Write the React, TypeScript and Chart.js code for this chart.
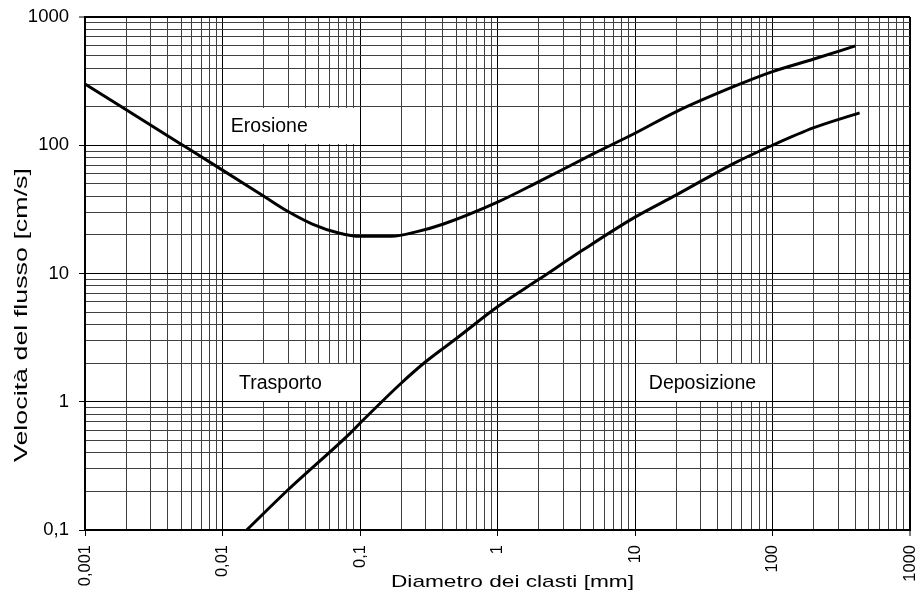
import React, { useEffect, useRef } from 'react';
import { Chart, registerables } from 'chart.js';

Chart.register(...registerables);

// ---- data ----
const erosionDiameter = [0.001, 0.005, 0.01, 0.02, 0.03, 0.045, 0.07, 0.1, 0.17, 0.26, 0.4, 1, 2, 5, 10, 20, 52, 100, 200, 400];
const erosionVelocity = [300, 102, 64, 40, 30.4, 24.3, 20.7, 19.5, 19.5, 21.2, 24.2, 36, 52, 86, 124, 183, 286, 375, 470, 595];

const depositionDiameter = [0.015, 0.03, 0.085, 0.1, 0.2, 0.3, 0.5, 1, 2, 4.2, 10, 20, 52, 100, 200, 430];
const depositionVelocity = [0.1, 0.206, 0.57, 0.68, 1.4, 2.05, 3.1, 5.5, 9.0, 15.3, 27.5, 41, 72, 100, 137, 179];

const xMajorTicks = [0.001, 0.01, 0.1, 1, 10, 100, 1000];
const xTickLabels = ['0,001', '0,01', '0,1', '1', '10', '100', '1000'];
const yMajorTicks = [0.1, 1, 10, 100, 1000];
const yTickLabels = ['0,1', '1', '10', '100', '1000'];

const regionLabels = ['Erosione', 'Trasporto', 'Deposizione'];
const regionXMin = [0.01, 0.01, 10];
const regionXMax = [0.1, 0.1, 100];
const regionYMin = [100, 1, 1];
const regionYMax = [200, 2, 2];
const regionTextX = [0.0115, 0.0132, 12.6];

const xTitle = 'Diametro dei clasti [mm]';
const yTitle = 'Velocità del flusso [cm/s]';

const FONT = '"Liberation Sans", Arial, Helvetica, sans-serif';

function decadeTicks(majors: number[]) {
  const out: { value: number; major: boolean }[] = [];
  for (let i = 0; i < majors.length; i++) {
    out.push({ value: majors[i], major: true });
    if (i < majors.length - 1) {
      for (let m = 2; m <= 9; m++) out.push({ value: +(majors[i] * m).toPrecision(6), major: false });
    }
  }
  return out;
}

function labelFor(value: number, majors: number[], labels: string[]) {
  const i = majors.findIndex((m) => Math.abs(m - value) / m < 1e-6);
  return i >= 0 ? labels[i] : '';
}

const regionPlugin = {
  id: 'regionBoxes',
  beforeDatasetsDraw(chart: any) {
    const { ctx } = chart;
    const xs = chart.scales.x;
    const ys = chart.scales.y;
    ctx.save();
    for (let i = 0; i < regionLabels.length; i++) {
      const l = xs.getPixelForValue(regionXMin[i]);
      const r = xs.getPixelForValue(regionXMax[i]);
      const t = ys.getPixelForValue(regionYMax[i]);
      const b = ys.getPixelForValue(regionYMin[i]);
      ctx.fillStyle = '#ffffff';
      ctx.fillRect(Math.round(l) + 1, Math.round(t) + 1, Math.round(r) - Math.round(l) - 2, Math.round(b) - Math.round(t) - 2);
      ctx.fillStyle = '#000000';
      ctx.font = `19.5px ${FONT}`;
      ctx.textAlign = 'left';
      ctx.textBaseline = 'middle';
      ctx.fillText(regionLabels[i], xs.getPixelForValue(regionTextX[i]), (t + b) / 2 + 1);
    }
    ctx.restore();
  },
};

const titlePlugin = {
  id: 'stretchedTitles',
  afterDraw(chart: any) {
    const { ctx } = chart;
    ctx.save();
    ctx.fillStyle = '#000000';
    ctx.font = `17px ${FONT}`;
    ctx.textAlign = 'center';
    ctx.textBaseline = 'alphabetic';
    // x title
    let w = ctx.measureText(xTitle).width;
    ctx.save();
    ctx.translate(512.5, 587);
    ctx.scale(243 / w, 1);
    ctx.fillText(xTitle, 0, 0);
    ctx.restore();
    // y title
    ctx.font = `17.5px ${FONT}`;
    w = ctx.measureText(yTitle).width;
    ctx.save();
    ctx.translate(27, 315);
    ctx.rotate(-Math.PI / 2);
    ctx.scale(294 / w, 1);
    ctx.fillText(yTitle, 0, 0);
    ctx.restore();
    ctx.restore();
  },
};

export default function App() {
  const ref = useRef<HTMLCanvasElement>(null);

  useEffect(() => {
    if (!ref.current) return;
    const gridColor = (c: any) => (c.tick && c.tick.major ? '#000000' : '#404040');
    const tickColor = (c: any) => (c.tick && c.tick.major ? '#000000' : 'rgba(0,0,0,0)');

    const chart = new Chart(ref.current, {
      type: 'line',
      data: {
        datasets: [
          {
            label: 'Erosione',
            data: erosionDiameter.map((x, i) => ({ x, y: erosionVelocity[i] })),
            borderColor: '#000000',
            borderWidth: 3,
            pointRadius: 0,
            cubicInterpolationMode: 'monotone',
            fill: false,
          },
          {
            label: 'Deposizione',
            data: depositionDiameter.map((x, i) => ({ x, y: depositionVelocity[i] })),
            borderColor: '#000000',
            borderWidth: 3,
            pointRadius: 0,
            cubicInterpolationMode: 'monotone',
            fill: false,
          },
        ],
      },
      options: {
        responsive: false,
        animation: false,
        devicePixelRatio: 1,
        layout: { padding: { top: 17, right: 5, left: 0, bottom: 0 } },
        plugins: { legend: { display: false }, tooltip: { enabled: false }, title: { display: false } },
        scales: {
          x: {
            type: 'logarithmic',
            min: 0.001,
            max: 1000,
            afterBuildTicks: (s: any) => {
              s.ticks = decadeTicks(xMajorTicks);
            },
            afterFit: (s: any) => {
              s.height = 61;
              s.paddingLeft = 0;
              s.paddingRight = 0;
            },
            ticks: {
              autoSkip: false,
              minRotation: 90,
              maxRotation: 90,
              padding: 9,
              color: '#000000',
              font: { family: FONT, size: 16.5 },
              callback: (v: any) => labelFor(Number(v), xMajorTicks, xTickLabels),
            },
            grid: {
              color: gridColor,
              lineWidth: (c: any) => (c.tick && c.tick.value === 1000 ? 2 : 1),
              tickColor: tickColor,
              tickWidth: 1,
              tickLength: 6,
            },
            border: { display: true, color: '#000000', width: 2 },
          },
          y: {
            type: 'logarithmic',
            min: 0.1,
            max: 1000,
            afterBuildTicks: (s: any) => {
              s.ticks = decadeTicks(yMajorTicks);
            },
            afterFit: (s: any) => {
              s.width = 85;
              s.paddingTop = 0;
              s.paddingBottom = 0;
            },
            ticks: {
              autoSkip: false,
              padding: 10,
              color: '#000000',
              font: { family: FONT, size: 18.5 },
              callback: (v: any) => labelFor(Number(v), yMajorTicks, yTickLabels),
            },
            grid: {
              color: gridColor,
              lineWidth: (c: any) => (c.tick && c.tick.value === 1000 ? 2 : 1),
              tickColor: tickColor,
              tickWidth: 1,
              tickLength: 6,
            },
            border: { display: true, color: '#000000', width: 2 },
          },
        },
      },
      plugins: [regionPlugin, titlePlugin],
    } as any);

    return () => chart.destroy();
  }, []);

  return (
    <div style={{ position: 'fixed', left: 0, top: 0, width: 915, height: 591, background: '#ffffff' }}>
      <canvas ref={ref} width={915} height={591} style={{ display: 'block', width: 915, height: 591 }} />
    </div>
  );
}
